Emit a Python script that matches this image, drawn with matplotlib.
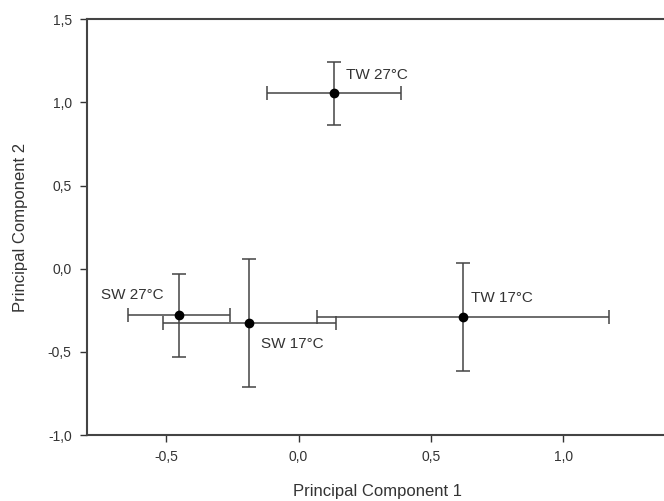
import matplotlib
matplotlib.use("Agg")
import matplotlib.pyplot as plt

plt.rcParams['font.family'] = ['Liberation Sans', 'DejaVu Sans']

# Group means and spreads
groups = ['TW 27°C', 'SW 27°C', 'SW 17°C', 'TW 17°C']
pc1 = [0.134, -0.453, -0.186, 0.621]
pc1_err = [0.254, 0.192, 0.327, 0.553]
pc2 = [1.056, -0.280, -0.328, -0.290]
pc2_err = [0.190, 0.248, 0.386, 0.323]

# label anchors (data coords, left aligned)
label_x = [0.178, -0.747, -0.141, 0.650]
label_y = [1.166, -0.158, -0.454, -0.174]
label_text = ['TW 27°C', 'SW 27°C', 'SW 17°C', 'TW 17°C']

xticks = [-0.5, 0.0, 0.5, 1.0]
xtick_labels = ['-0,5', '0,0', '0,5', '1,0']
yticks = [-1.0, -0.5, 0.0, 0.5, 1.0, 1.5]
ytick_labels = ['-1,0', '-0,5', '0,0', '0,5', '1,0', '1,5']

fig = plt.figure(figsize=(6.64, 5.01), dpi=100)
ax = fig.add_axes([0.131, 0.1317, 0.8765, 0.8298])

ax.errorbar(pc1, pc2, xerr=pc1_err, yerr=pc2_err, fmt='o', color='black',
            ecolor='#444444', elinewidth=1.1, capsize=5, capthick=1.1,
            markersize=6, zorder=3)

for tx, ty, t in zip(label_x, label_y, label_text):
    ax.text(tx, ty, t, fontsize=11, color='#333333', ha='left', va='center')

ax.set_xlim(-0.8, 1.4)
ax.set_ylim(-1.0, 1.5)
ax.set_xticks(xticks)
ax.set_xticklabels(xtick_labels)
ax.set_yticks(yticks)
ax.set_yticklabels(ytick_labels)
ax.tick_params(direction='out', length=5, width=1, colors='#333333',
               labelsize=10, pad=6, top=False, right=False)
for s in ax.spines.values():
    s.set_color('#444444')
    s.set_linewidth(1.5)
ax.spines['right'].set_visible(False)

ax.set_xlabel('Principal Component 1', fontsize=12, color='#333333', labelpad=14)
ax.set_ylabel('Principal Component 2', fontsize=12, color='#333333', labelpad=14)

fig.savefig('out.png', dpi=100)
